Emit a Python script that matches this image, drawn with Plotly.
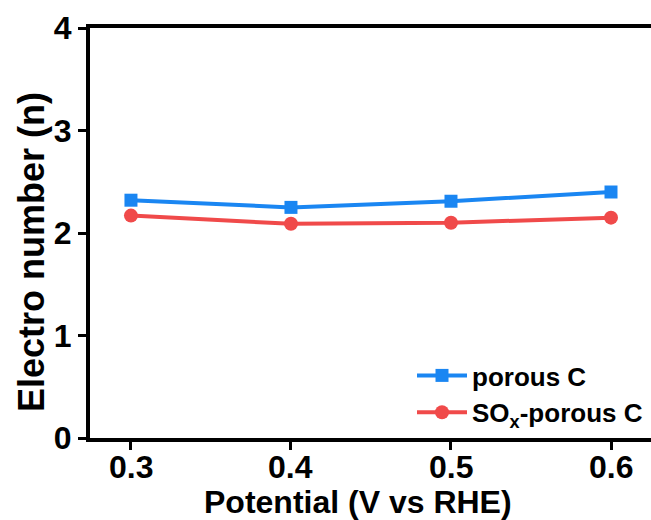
import plotly.graph_objects as go

potential = [0.3, 0.4, 0.5, 0.6]
porous_c = [2.32, 2.25, 2.31, 2.40]
sox_porous_c = [2.17, 2.09, 2.10, 2.15]
x_ticks = [0.3, 0.4, 0.5, 0.6]
x_tick_labels = ["0.3", "0.4", "0.5", "0.6"]
y_ticks = [0, 1, 2, 3, 4]

FONT = "Liberation Sans, Arial, sans-serif"
blue = "#1a86f2"
red = "#f04a4a"

L, T, B = 90, 28, 82
PW = 651 - L
PH = 520 - T - B

fig = go.Figure()
fig.add_trace(go.Scatter(
    x=potential, y=porous_c, mode="lines+markers", name="porous C",
    line=dict(color=blue, width=4),
    marker=dict(symbol="square", size=13, color=blue),
))
fig.add_trace(go.Scatter(
    x=potential, y=sox_porous_c, mode="lines+markers", name="SO<sub>x</sub>-porous C",
    line=dict(color=red, width=4),
    marker=dict(symbol="circle", size=14, color=red),
))

annotations = [
    dict(
        text="Electro number (n)", textangle=-90,
        xref="paper", yref="paper", x=(31 - L) / PW, y=(438 - 252) / PH,
        xanchor="center", yanchor="middle", showarrow=False,
        font=dict(family=FONT, size=36, weight="bold", color="black"),
    ),
    dict(
        text="Potential (V vs RHE)",
        xref="paper", yref="paper", x=(358 - L) / PW, y=(438 - 502) / PH,
        xanchor="center", yanchor="middle", showarrow=False,
        font=dict(family=FONT, size=32, weight="bold", color="black"),
        borderpad=0,
    ),
]
for v, lab in zip(x_ticks, x_tick_labels):
    annotations.append(dict(
        text=lab, xref="x", yref="paper", x=v, y=(438 - 467) / PH,
        xanchor="center", yanchor="middle", showarrow=False,
        font=dict(family=FONT, size=32, weight="bold", color="black"),
        borderpad=0,
    ))

fig.update_layout(
    width=651, height=520,
    margin=dict(l=L, r=0, t=T, b=B),
    paper_bgcolor="white", plot_bgcolor="white",
    font=dict(family=FONT, color="black", size=24, weight="bold"),
    showlegend=True,
    legend=dict(
        x=(648 - L) / PW, y=(438 - 436) / PH, xanchor="right", yanchor="bottom",
        bgcolor="rgba(0,0,0,0)",
        font=dict(family=FONT, size=26, color="black", weight="bold"),
        tracegroupgap=0, itemwidth=50,
    ),
    xaxis=dict(
        range=[0.2744, 0.625], tickvals=x_ticks,
        showticklabels=False,
        showgrid=False, zeroline=False,
        showline=True, linecolor="black", linewidth=4, mirror=True,
        ticks="outside", ticklen=8, tickwidth=3, tickcolor="black",
    ),
    yaxis=dict(
        range=[0, 4], tickvals=y_ticks,
        showgrid=False, zeroline=False,
        showline=True, linecolor="black", linewidth=4,
        ticks="outside", ticklen=8, tickwidth=3, tickcolor="black",
        tickfont=dict(family=FONT, size=32, weight="bold"),
    ),
    annotations=annotations,
)

fig.write_html("out.html")
